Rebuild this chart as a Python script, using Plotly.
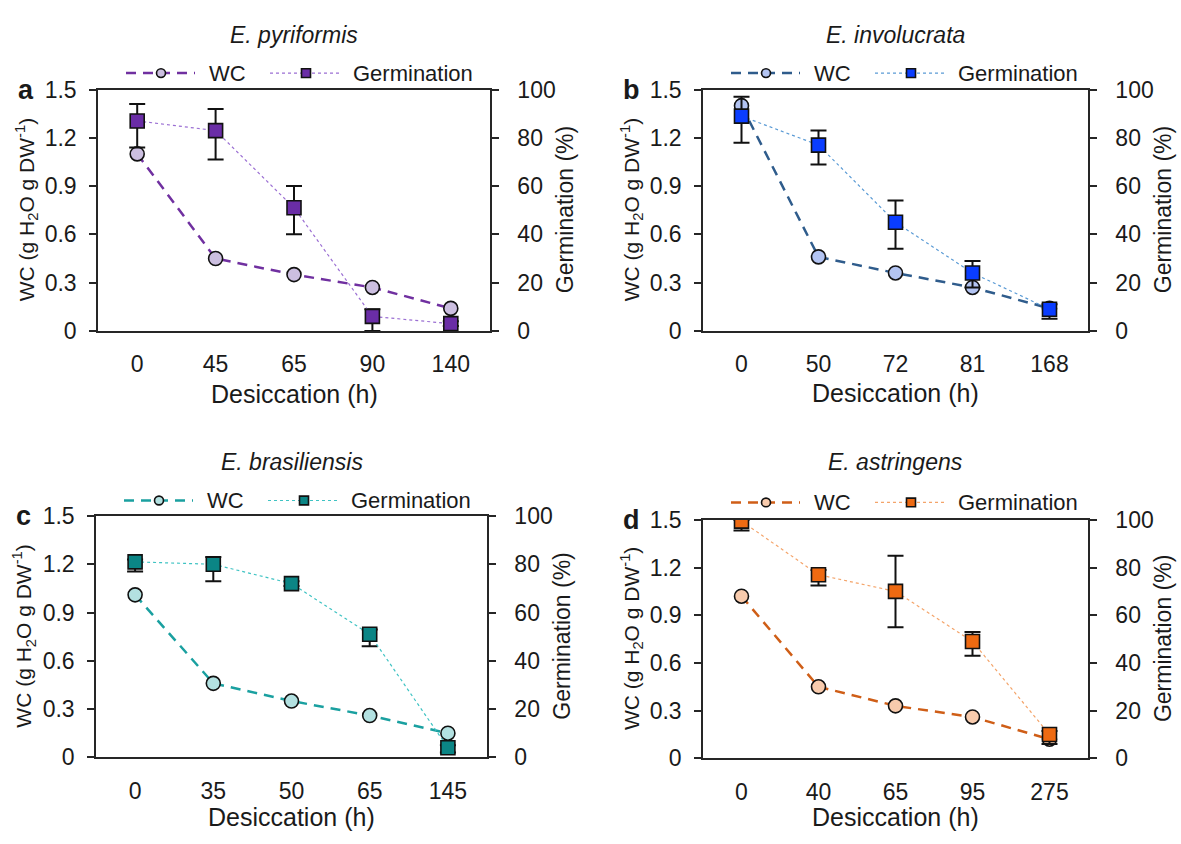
import plotly.graph_objects as go

# ---------------- data ----------------
cats_a = ["0", "45", "65", "90", "140"]
wc_a = [1.10, 0.45, 0.35, 0.27, 0.14]
germ_a = [87, 83, 51, 6, 3]
germ_up_a = [7, 9, 9, 3, 1]
germ_dn_a = [11, 12, 11, 6, 1]

cats_b = ["0", "50", "72", "81", "168"]
wc_b = [1.40, 0.46, 0.36, 0.27, 0.14]
germ_b = [89, 77, 45, 24, 9]
germ_up_b = [8, 6, 9, 5, 2]
germ_dn_b = [11, 8, 11, 6, 4]

cats_c = ["0", "35", "50", "65", "145"]
wc_c = [1.01, 0.46, 0.35, 0.26, 0.15]
germ_c = [81, 80, 72, 51, 4]
germ_up_c = [1, 3, 1, 2, 1]
germ_dn_c = [4, 7, 1, 5, 2]

cats_d = ["0", "40", "65", "95", "275"]
wc_d = [1.02, 0.45, 0.33, 0.26, 0.12]
germ_d = [99.5, 77, 70, 49, 10]
germ_up_d = [0.5, 2, 15, 4, 1.5]
germ_dn_d = [4, 4.5, 15, 6, 4]

species = ["E. pyriformis", "E. involucrata", "E. brasiliensis", "E. astringens"]
letters = ["a", "b", "c", "d"]

# ---------------- styling / layout ----------------
W, H = 1181, 844
def X(p): return p / W
def Y(p): return 1 - p / H

FONT = "Liberation Sans, Arial, sans-serif"
LC = "#262626"
TXT = "#1a1a1a"

panels = [
    dict(cats=cats_a, wc=wc_a, germ=germ_a, up=germ_up_a, dn=germ_dn_a,
         box=(98, 490, 79, 328), title_y=23, leg_y=62, xt_y=393,
         wc_line="#7030A0", wc_fill="#CCBFE0", g_line="#9B6FD3", g_fill="#6A2DA6"),
    dict(cats=cats_b, wc=wc_b, germ=germ_b, up=germ_up_b, dn=germ_dn_b,
         box=(703, 1088, 79, 328), title_y=23, leg_y=62, xt_y=392,
         wc_line="#2F5C8C", wc_fill="#B3C4F2", g_line="#5B9BD5", g_fill="#0A3DFF"),
    dict(cats=cats_c, wc=wc_c, germ=germ_c, up=germ_up_c, dn=germ_dn_c,
         box=(96, 487, 519, 768), title_y=463, leg_y=503, xt_y=830,
         wc_line="#1AA0A0", wc_fill="#B3E1E1", g_line="#3FC3C3", g_fill="#0B8585"),
    dict(cats=cats_d, wc=wc_d, germ=germ_d, up=germ_up_d, dn=germ_dn_d,
         box=(703, 1088, 523, 769), title_y=463, leg_y=505, xt_y=830,
         wc_line="#CF5E17", wc_fill="#F8CBAD", g_line="#F4A46A", g_fill="#EE6A12"),
]

fig = go.Figure()
layout = dict(
    width=W, height=H, margin=dict(l=0, r=0, t=0, b=0),
    paper_bgcolor="white", plot_bgcolor="white", showlegend=False,
    font=dict(family=FONT, color=TXT, size=22),
)
annotations = []
shapes = []

for i, p in enumerate(panels):
    xi = i + 1
    ya, yb = 2 * i + 1, 2 * i + 2
    xid = "x" if xi == 1 else f"x{xi}"
    yaid = "y" if ya == 1 else f"y{ya}"
    ybid = f"y{yb}"
    xname = "xaxis" if xi == 1 else f"xaxis{xi}"
    yaname = "yaxis" if ya == 1 else f"yaxis{ya}"
    ybname = f"yaxis{yb}"
    l, r, t, b = p["box"]

    fig.add_trace(go.Scatter(
        x=p["cats"], y=p["wc"], xaxis=xid, yaxis=yaid, mode="lines+markers",
        line=dict(color=p["wc_line"], width=2.5, dash="10px,7px"),
        marker=dict(symbol="circle", size=14, color=p["wc_fill"],
                    line=dict(color="#111111", width=1.6)),
        name="WC"))
    fig.add_trace(go.Scatter(
        x=p["cats"], y=p["germ"], xaxis=xid, yaxis=ybid, mode="lines+markers",
        line=dict(color=p["g_line"], width=1.2, dash="dot"),
        marker=dict(symbol="square", size=14, color=p["g_fill"],
                    line=dict(color="#111111", width=1.6)),
        error_y=dict(type="data", symmetric=False, array=p["up"], arrayminus=p["dn"],
                     color="#111111", thickness=2, width=8),
        name="Germination"))

    layout[xname] = dict(
        domain=[X(l), X(r)], anchor=yaid, type="category", range=[-0.5, 4.5],
        showline=True, linecolor=LC, linewidth=1.5, mirror=True, ticks="",
        showgrid=False, zeroline=False, tickfont=dict(size=23, color=TXT),
        ticklabelstandoff=12)
    layout[yaname] = dict(
        domain=[Y(b), Y(t)], anchor=xid, range=[0, 1.5], tick0=0, dtick=0.3,
        showline=True, linecolor=LC, linewidth=1.5, ticks="outside", ticklen=7,
        tickwidth=1.5, tickcolor=LC, showgrid=False, zeroline=False,
        tickfont=dict(size=23, color=TXT), ticklabelstandoff=8)
    layout[ybname] = dict(
        overlaying=yaid, side="right", anchor=xid, range=[0, 100], tick0=0, dtick=20,
        showline=True, linecolor=LC, linewidth=1.5, ticks="outside", ticklen=7,
        tickwidth=1.5, tickcolor=LC, showgrid=False, zeroline=False,
        tickfont=dict(size=23, color=TXT), ticklabelstandoff=14)

    cx = (l + r) / 2
    cy = (t + b) / 2
    # species title
    annotations.append(dict(text=species[i], x=X(cx), y=Y(p["title_y"]),
                            xref="paper", yref="paper", showarrow=False,
                            font=dict(size=23, style="italic"),
                            xanchor="center", yanchor="middle"))
    # panel letter
    annotations.append(dict(text=letters[i], x=X(l - 72), y=Y(t),
                            xref="paper", yref="paper", showarrow=False,
                            font=dict(size=27, weight="bold"),
                            xanchor="center", yanchor="middle"))
    # axis titles
    annotations.append(dict(text="Desiccation (h)", x=X(cx), y=Y(p["xt_y"]),
                            xref="paper", yref="paper", showarrow=False,
                            font=dict(size=25), xanchor="center", yanchor="middle"))
    annotations.append(dict(text="WC (g H<sub>2</sub>O g DW<sup>-1</sup>)", x=X(l - 72), y=Y(cy),
                            xref="paper", yref="paper", showarrow=False, textangle=-90,
                            font=dict(size=21), xanchor="center", yanchor="middle"))
    annotations.append(dict(text="Germination (%)", x=X(r + 75), y=Y(cy),
                            xref="paper", yref="paper", showarrow=False, textangle=-90,
                            font=dict(size=23), xanchor="center", yanchor="middle"))
    # custom legend
    ly = p["leg_y"]
    shapes.append(dict(type="line", xref="paper", yref="paper",
                       x0=X(l + 28), x1=X(l + 97), y0=Y(ly), y1=Y(ly),
                       line=dict(color=p["wc_line"], width=2.5, dash="10px,7px")))
    mc = l + 63
    shapes.append(dict(type="circle", xref="paper", yref="paper",
                       x0=X(mc - 4.5), x1=X(mc + 4.5), y0=Y(ly + 4.5), y1=Y(ly - 4.5),
                       fillcolor=p["wc_fill"], line=dict(color="#111111", width=1.6)))
    annotations.append(dict(text="WC", x=X(l + 109), y=Y(ly), xref="paper", yref="paper",
                            showarrow=False, font=dict(size=22), xanchor="left", yanchor="middle"))
    shapes.append(dict(type="line", xref="paper", yref="paper",
                       x0=X(l + 172), x1=X(l + 242), y0=Y(ly), y1=Y(ly),
                       line=dict(color=p["g_line"], width=1.2, dash="dot")))
    sc = l + 208
    shapes.append(dict(type="rect", xref="paper", yref="paper",
                       x0=X(sc - 4.5), x1=X(sc + 4.5), y0=Y(ly + 4.5), y1=Y(ly - 4.5),
                       fillcolor=p["g_fill"], line=dict(color="#111111", width=1.6)))
    annotations.append(dict(text="Germination", x=X(l + 253), y=Y(ly), xref="paper", yref="paper",
                            showarrow=False, font=dict(size=22), xanchor="left", yanchor="middle"))

layout["annotations"] = annotations
layout["shapes"] = shapes
fig.update_layout(**layout)
fig.write_html("out.html")
